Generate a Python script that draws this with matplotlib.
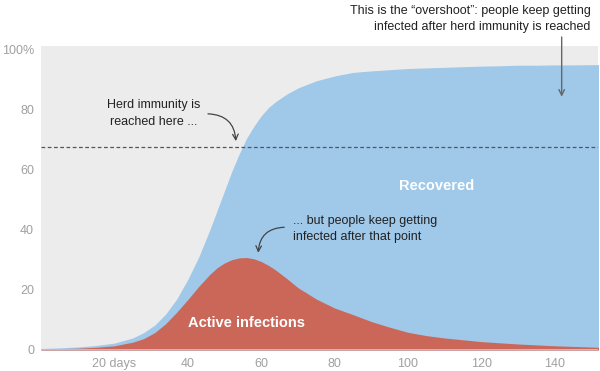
import matplotlib
matplotlib.use("Agg")
import matplotlib.pyplot as plt

# ---- data ----
days = [0, 5, 10, 15, 20, 25, 28, 31, 34, 37, 40, 43, 46, 48, 50, 52, 54, 56, 58, 60,
        62, 64, 67, 70, 75, 80, 85, 90, 95, 100, 105, 110, 115, 120, 125, 130, 135,
        140, 145, 152]
ever_infected = [0.5, 0.7, 1.0, 1.5, 2.3, 4.0, 5.8, 8.3, 12.0, 17.0, 23.5, 31.0, 40.0, 46.5,
                 53.0, 59.5, 65.3, 70.5, 74.5, 78.0, 80.8, 82.8, 85.3, 87.3, 89.7, 91.3,
                 92.5, 93.0, 93.4, 93.8, 94.0, 94.2, 94.4, 94.6, 94.7, 94.9, 94.9, 95.0,
                 95.0, 95.1]
active = [0.4, 0.45, 0.6, 0.9, 1.4, 2.6, 3.8, 5.8, 8.8, 12.6, 16.8, 21.2, 25.2, 27.4,
          29.0, 30.1, 30.7, 30.8, 30.4, 29.5, 28.2, 26.6, 23.8, 20.8, 17.0, 14.0, 11.8,
          9.5, 7.6, 5.9, 4.8, 4.0, 3.4, 2.8, 2.4, 2.0, 1.7, 1.4, 1.2, 0.9]
herd_threshold = 67.8
x_ticks = [20, 40, 60, 80, 100, 120, 140]
x_tick_labels = ["20 days", "40", "60", "80", "100", "120", "140"]
y_ticks = [0, 20, 40, 60, 80, 100]
y_tick_labels = ["0", "20", "40", "60", "80", "100%"]

plt.rcParams['font.family'] = ['Liberation Sans', 'DejaVu Sans']

fig = plt.figure(figsize=(6, 3.71), dpi=100)
ax = fig.add_axes([41/600, (371-350)/371, (598-41)/600, (350-46)/371])

ax.set_facecolor("#ececec")
ax.fill_between(days, 0, ever_infected, color="#9fc8e9", lw=0)
ax.fill_between(days, 0, active, color="#cb6759", lw=0)
ax.axhline(herd_threshold, color="#555555", lw=0.9, ls=(0, (3, 2)))
ax.axhline(0, color="#c8c8c8", lw=1.2, zorder=5)

ax.set_xlim(0, 151.8)
ax.set_ylim(0, 101.3)
for s in ax.spines.values():
    s.set_visible(False)
ax.set_xticks(x_ticks)
ax.set_xticklabels(x_tick_labels)
ax.set_yticks(y_ticks)
ax.set_yticklabels(y_tick_labels)
ax.tick_params(axis="both", length=0, labelsize=9, colors="#a0a0a0")
ax.tick_params(axis="x", pad=6)
ax.tick_params(axis="y", pad=5)

txt = dict(fontsize=9, color="#222222", linespacing=1.45)
ax.text(30.8, 78.8, "Herd immunity is\nreached here ...", ha="center", va="center", **txt)
ax.annotate("", xy=(53.1, 69.6), xytext=(45.5, 78.7),
            arrowprops=dict(arrowstyle="->", color="#444444", lw=0.9,
                            connectionstyle="arc3,rad=-0.45", shrinkA=0, shrinkB=0))

ax.text(68.6, 40.3, "... but people keep getting\ninfected after that point",
        ha="left", va="center", **txt)
ax.annotate("", xy=(59.2, 32.4), xytext=(66.3, 40.9),
            arrowprops=dict(arrowstyle="->", color="#444444", lw=0.9,
                            connectionstyle="arc3,rad=0.45", shrinkA=0, shrinkB=0))

ax.text(149.8, 110.2, "This is the \u201covershoot\u201d: people keep getting\ninfected after herd immunity is reached",
        ha="right", va="center", clip_on=False, **txt)
ax.annotate("", xy=(141.9, 84.4), xytext=(141.9, 104.3), annotation_clip=False,
            arrowprops=dict(arrowstyle="->", color="#666666", lw=1.0,
                            shrinkA=0, shrinkB=0))

ax.text(107.9, 54.7, "Recovered", ha="center", va="center", fontsize=10.5,
        fontweight="bold", color="white")
ax.text(56.1, 8.9, "Active infections", ha="center", va="center", fontsize=10.5,
        fontweight="bold", color="white")

fig.savefig("out.png", dpi=100)
